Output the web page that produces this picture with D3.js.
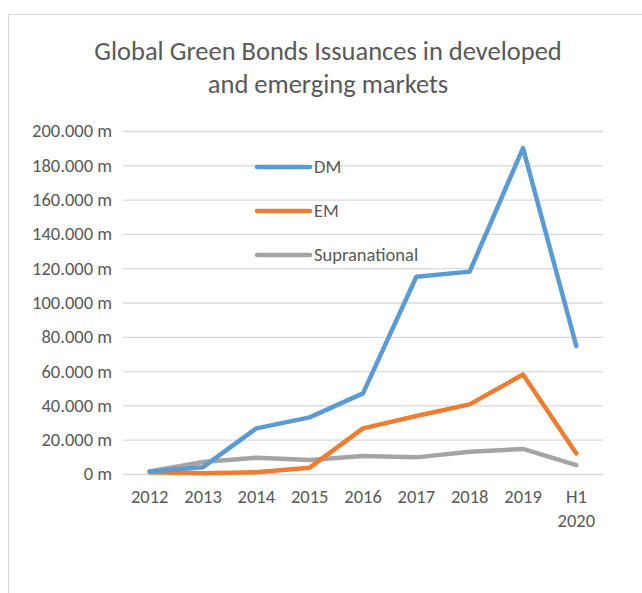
<!DOCTYPE html>
<html>
<head>
<meta charset="utf-8">
<script src="https://cdn.jsdelivr.net/npm/d3@7"></script>
<style>
  body { margin: 0; background: #fff; }
  svg text { font-family: Carlito, "Open Sans", "Liberation Sans", sans-serif; fill: #595959; }
</style>
</head>
<body>
<svg id="chart" width="642" height="593"></svg>
<script>
const categories = ['2012', '2013', '2014', '2015', '2016', '2017', '2018', '2019', 'H1\n2020']
const dm = [1.5, 4, 26.6, 33, 47, 115, 118, 190, 74.6]
const em = [1, 0.5, 1, 3.7, 26.6, 33.8, 40.6, 58, 12]
const supranational = [1.5, 7, 9.5, 8.2, 10.5, 9.7, 13, 14.6, 5.2]
const yTicks = [0, 20, 40, 60, 80, 100, 120, 140, 160, 180, 200]

const series = [
    { name: 'DM', values: dm, colour: '#5b9bd5' },
    { name: 'EM', values: em, colour: '#ed7d31' },
    { name: 'Supranational', values: supranational, colour: '#a5a5a5' }
]

const svg = d3.select('#chart')
const margin = { left: 123, right: 603, top: 131, bottom: 474 }
const fontSize = '18.5px'

// outer chart frame
svg.append('rect')
    .attr('x', 8.5).attr('y', 14.5)
    .attr('width', 660).attr('height', 620)
    .attr('fill', '#fff')
    .attr('stroke', '#d9d9d9')

svg.append('text')
    .attr('text-anchor', 'middle')
    .style('font-size', '26.5px')
    .selectAll('tspan')
    .data(['Global Green Bonds Issuances in developed', 'and emerging markets'])
    .join('tspan')
    .attr('x', 328)
    .attr('y', (d, i) => 60 + i * 33)
    .text(d => d)

const x = d3.scaleBand().domain(categories).range([margin.left, margin.right])
const y = d3.scaleLinear().domain([0, 200]).range([margin.bottom, margin.top])

svg.append('g')
    .attr('transform', `translate(${margin.left}, 0)`)
    .style('font-size', fontSize)
    .call(d3.axisLeft(y).tickValues(yTicks).tickSize(-(margin.right - margin.left)).tickPadding(11)
        .tickFormat(d => d === 0 ? '0 m' : d + '.000 m'))
    .call(g => g.select('.domain').remove())
    .call(g => g.selectAll('.tick line').attr('stroke', '#d9d9d9').attr('stroke-width', 1.3))
    .call(g => g.selectAll('.tick text').attr('fill', '#595959'))

const xAxis = svg.append('g')
    .attr('transform', `translate(0, ${margin.bottom})`)
    .style('font-size', fontSize)
    .call(d3.axisBottom(x).tickSize(0).tickPadding(0).tickFormat(''))
    .call(g => g.select('.domain').remove())

// multi-line category labels (H1 / 2020)
xAxis.selectAll('.tick text')
    .attr('fill', '#595959')
    .attr('y', null)
    .attr('dy', null)
    .each(function (d) {
        const t = d3.select(this)
        d.split('\n').forEach((line, i) => {
            t.append('tspan').attr('x', 0).attr('y', 29 + i * 24).text(line)
        })
    })

const line = d3.line()
    .x((d, i) => x(categories[i]) + x.bandwidth() / 2)
    .y(d => y(d))

svg.append('g')
    .selectAll('path')
    .data(series.slice().reverse())
    .join('path')
    .attr('d', d => line(d.values))
    .attr('fill', 'none')
    .attr('stroke', d => d.colour)
    .attr('stroke-width', 4.5)
    .attr('stroke-linecap', 'round')
    .attr('stroke-linejoin', 'round')

const legend = svg.append('g')
    .selectAll('g')
    .data(series)
    .join('g')
    .attr('transform', (d, i) => `translate(257, ${167 + i * 44})`)

legend.append('line')
    .attr('x1', 0).attr('x2', 53)
    .attr('stroke', d => d.colour)
    .attr('stroke-width', 4.5)
    .attr('stroke-linecap', 'round')

legend.append('text')
    .attr('x', 57).attr('dy', '0.35em')
    .style('font-size', fontSize)
    .text(d => d.name)
</script>
</body>
</html>
